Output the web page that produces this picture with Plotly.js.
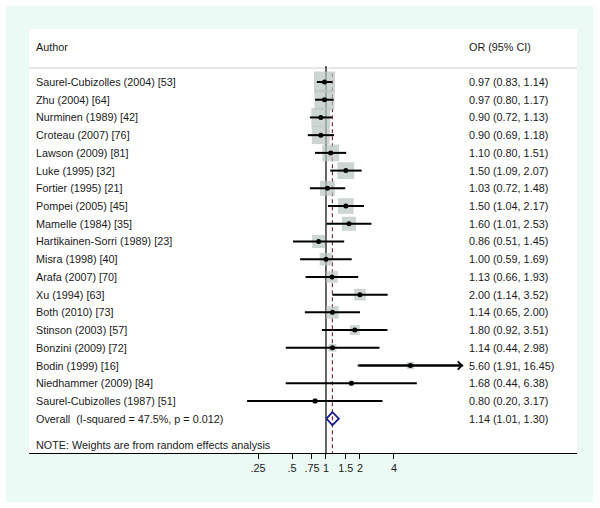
<!DOCTYPE html>
<html>
<head>
<meta charset="utf-8">
<script src="https://cdn.plot.ly/plotly-3.0.1.min.js"></script>
<style>
html, body { margin: 0; padding: 0; background: #ffffff; width: 600px; height: 508px; overflow: hidden; }
#chart { position: absolute; left: 6px; top: 6px; width: 587px; height: 496px; }
</style>
</head>
<body>
<div id="chart"></div>
<script>
// ---- data ----
const studies = [
  "Saurel-Cubizolles (2004) [53]", "Zhu (2004) [64]", "Nurminen (1989) [42]", "Croteau (2007) [76]",
  "Lawson (2009) [81]", "Luke (1995) [32]", "Fortier (1995) [21]", "Pompei (2005) [45]",
  "Mamelle (1984) [35]", "Hartikainen-Sorri (1989) [23]", "Misra (1998) [40]", "Arafa (2007) [70]",
  "Xu (1994) [63]", "Both (2010) [73]", "Stinson (2003) [57]", "Bonzini (2009) [72]",
  "Bodin (1999) [16]", "Niedhammer (2009) [84]", "Saurel-Cubizolles (1987) [51]"
];
const orEst  = [0.97, 0.97, 0.90, 0.90, 1.10, 1.50, 1.03, 1.50, 1.60, 0.86, 1.00, 1.13, 2.00, 1.14, 1.80, 1.14, 5.60, 1.68, 0.80];
const ciLow  = [0.83, 0.80, 0.72, 0.69, 0.80, 1.09, 0.72, 1.04, 1.01, 0.51, 0.59, 0.66, 1.14, 0.65, 0.92, 0.44, 1.91, 0.44, 0.20];
const ciHigh = [1.14, 1.17, 1.13, 1.18, 1.51, 2.07, 1.48, 2.17, 2.53, 1.45, 1.69, 1.93, 3.52, 2.00, 3.51, 2.98, 16.45, 6.38, 3.17];
const weights = [11.6, 10.6, 9.5, 8.5, 7.4, 7.4, 5.9, 6.5, 5.2, 4.5, 4.2, 3.6, 3.6, 4.2, 2.6, 1.6, 1.4, 0.8, 0.8];
const overallLabel = "Overall\u00a0 (I-squared = 47.5%, p = 0.012)";
const overallEst = 1.14, overallLow = 1.01, overallHigh = 1.30;
const headerLeft = "Author", headerRight = "OR (95% CI)";
const noteText = "NOTE: Weights are from random effects analysis";
const tickVals = [0.25, 0.5, 0.75, 1, 1.5, 2, 4];
const tickText = [".25", ".5", ".75", "1", "1.5", "2", "4"];
const arrowUpper = 10; // CIs above this get an arrow head

// ---- build ----
const n = studies.length;
const rows = studies.map((_, i) => i + 1);
const overallRow = n + 1;
const FONT = "Liberation Sans, Arial, Helvetica, sans-serif";
const FS = 10.8;
const TXT = "#1a1a1a";

const ciX = [], ciY = [];
for (let i = 0; i < n; i++) { ciX.push(ciLow[i], ciHigh[i], null); ciY.push(rows[i], rows[i], null); }

const traces = [
  { x: [1, 1], y: [0.1, 21.94], mode: "lines", line: { color: "#000000", width: 1.2 }, hoverinfo: "skip", showlegend: false },
  { x: [overallEst, overallEst], y: [0.5, 21.94], mode: "lines", line: { color: "#8b2d3c", width: 1.2, dash: "4px,3px" }, hoverinfo: "skip", showlegend: false },
  { x: orEst, y: rows, mode: "markers", marker: { symbol: "square", color: "#b9c4c0", size: weights.map(w => 6.16 * Math.sqrt(w)), line: { width: 0 } }, hoverinfo: "skip", showlegend: false },
  { x: ciX, y: ciY, mode: "lines", line: { color: "#000000", width: 2 }, hoverinfo: "skip", showlegend: false, connectgaps: false },
  { x: orEst, y: rows, mode: "markers", marker: { symbol: "circle", color: "#000000", size: 5 }, hoverinfo: "skip", showlegend: false },
  { x: [overallLow, overallEst, overallHigh, overallEst, overallLow], y: [overallRow, overallRow - 0.37, overallRow, overallRow + 0.37, overallRow], mode: "lines", line: { color: "#1c1c8c", width: 1.8 }, hoverinfo: "skip", showlegend: false }
];

const annotations = [];
const leftX = 0.010, rightX = 0.800;
function txt(x, y, t) {
  annotations.push({ xref: "paper", yref: "y", x: x, y: y, text: t, showarrow: false, xanchor: "left", yanchor: "middle", font: { family: FONT, size: FS, color: TXT } });
}
const fmt = v => v.toFixed(2);
txt(leftX, -1, headerLeft);
txt(rightX, -1, headerRight);
for (let i = 0; i < n; i++) {
  txt(leftX, rows[i], studies[i]);
  txt(rightX, rows[i], fmt(orEst[i]) + " (" + fmt(ciLow[i]) + ", " + fmt(ciHigh[i]) + ")");
  if (ciHigh[i] > arrowUpper) {
    annotations.push({ xref: "x", yref: "y", axref: "x", ayref: "y", x: Math.log10(ciHigh[i]), y: rows[i], ax: Math.log10(ciLow[i]), ay: rows[i], text: "", showarrow: true, arrowhead: 4, arrowsize: 0.8, arrowwidth: 2, arrowcolor: "#000000" });
  }
}
txt(leftX, overallRow, overallLabel);
txt(rightX, overallRow, fmt(overallEst) + " (" + fmt(overallLow) + ", " + fmt(overallHigh) + ")");
txt(leftX, 21.49, noteText);

const layout = {
  width: 587, height: 496,
  margin: { l: 23, r: 16, t: 23, b: 49, pad: 0 },
  paper_bgcolor: "#ebfaf5",
  plot_bgcolor: "#ffffff",
  showlegend: false,
  xaxis: {
    type: "log", range: [-2.632, 2.2246], showgrid: false, zeroline: false,
    showline: true, linecolor: "#000000", linewidth: 1,
    ticks: "outside", ticklen: 5, tickwidth: 1, tickcolor: "#000000",
    tickvals: tickVals, ticktext: tickText,
    tickfont: { family: FONT, size: FS, color: TXT }, fixedrange: true
  },
  yaxis: { range: [21.937, -1.991], visible: false, showgrid: false, zeroline: false, fixedrange: true },
  shapes: [
    { type: "line", xref: "paper", yref: "y", x0: 0, x1: 1, y0: 0.21, y1: 0.21, line: { color: "#cfcfcf", width: 1 }, layer: "below" }
  ],
  annotations: annotations
};

Plotly.newPlot("chart", traces, layout, { displayModeBar: false, staticPlot: true });
</script>
</body>
</html>
